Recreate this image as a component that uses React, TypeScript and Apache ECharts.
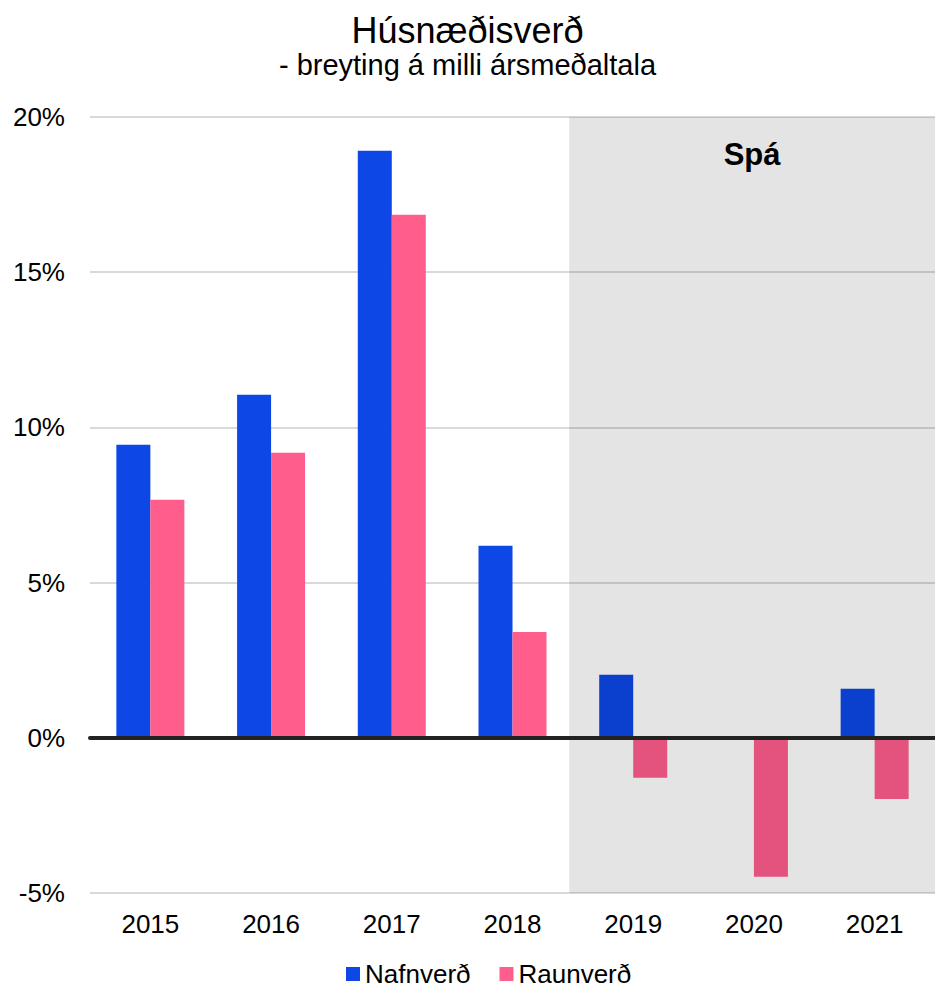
import React, { useEffect, useRef } from "react";
import * as echarts from "echarts";

const years = ["2015", "2016", "2017", "2018", "2019", "2020", "2021"];
const nafnverd = [9.44, 11.05, 18.91, 6.19, 2.03, 0, 1.58];
const raunverd = [7.67, 9.18, 16.85, 3.41, -1.29, -4.48, -1.97];
const yTicks = { min: -5, max: 20, interval: 5 };
const forecastStart = 3.97;
const forecastEnd = 7;
const forecastLabel = "Spá";

const FONT = "'Liberation Sans', Arial, sans-serif";

export default function App() {
  const ref = useRef<HTMLDivElement>(null);
  useEffect(() => {
    const chart = echarts.init(ref.current!, null, { renderer: "svg" });
    chart.setOption({
      animation: false,
      textStyle: { fontFamily: FONT },
      title: {
        text: "Húsnæðisverð",
        subtext: "- breyting á milli ársmeðaltala",
        left: "center",
        top: 7,
        itemGap: 2,
        textStyle: { fontFamily: FONT, fontSize: 36, fontWeight: "normal", color: "#000" },
        subtextStyle: { fontFamily: FONT, fontSize: 29, color: "#000" },
      },
      legend: {
        bottom: 3,
        left: 341,
        padding: [0, 5, 0, 5],
        itemWidth: 14,
        itemHeight: 14,
        itemGap: 29,
        icon: "rect",
        textStyle: { fontFamily: FONT, fontSize: 26, lineHeight: 26, color: "#000" },
        data: ["Nafnverð", "Raunverð"],
      },
      grid: { left: 90, right: 0, top: 117, bottom: 97, containLabel: false },
      xAxis: [
        {
          type: "category",
          data: years,
          axisTick: { show: false },
          axisLine: { onZero: true, lineStyle: { color: "#222", width: 4 } },
          axisLabel: { fontFamily: FONT, fontSize: 26, color: "#000", margin: 18 },
          z: 10,
        },
        { type: "value", min: 0, max: 7, show: false },
      ],
      yAxis: {
        type: "value",
        min: yTicks.min,
        max: yTicks.max,
        interval: yTicks.interval,
        axisLabel: {
          formatter: (v: number) => v + "%",
          fontFamily: FONT,
          fontSize: 26,
          color: "#000",
          margin: 25,
        },
        splitLine: { lineStyle: { color: "#cccccc", width: 1.5 } },
        axisLine: { show: false },
        axisTick: { show: false },
      },
      series: [
        {
          name: "Nafnverð",
          type: "bar",
          data: nafnverd,
          barWidth: 34,
          barGap: "0%",
          itemStyle: { color: "#0d47e6" },
          z: 2,
        },
        {
          name: "Raunverð",
          type: "bar",
          data: raunverd,
          barWidth: 34,
          barGap: "0%",
          itemStyle: { color: "#ff5d8c" },
          z: 2,
        },
        {
          name: "forecast",
          type: "line",
          xAxisIndex: 1,
          yAxisIndex: 0,
          data: [],
          z: 5,
          silent: true,
          markArea: {
            z: 5,
            silent: true,
            itemStyle: { color: "rgba(0,0,0,0.106)" },
            label: {
              show: true,
              position: "insideTop",
              distance: 22,
              fontFamily: FONT,
              fontSize: 31,
              fontWeight: "bold",
              color: "#000",
            },
            data: [
              [
                { name: forecastLabel, xAxis: forecastStart, yAxis: yTicks.min },
                { xAxis: forecastEnd, yAxis: yTicks.max },
              ],
            ],
          },
        },
      ],
    });
    return () => chart.dispose();
  }, []);
  return (
    <div
      ref={ref}
      style={{ position: "absolute", left: 0, top: 0, width: 935, height: 990 }}
    />
  );
}
